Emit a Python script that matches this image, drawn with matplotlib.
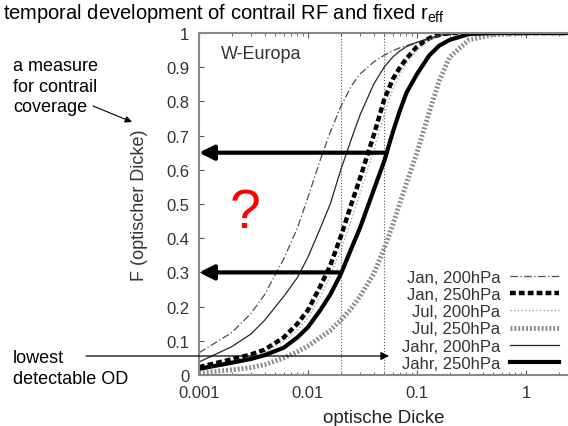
import numpy as np
import matplotlib.pyplot as plt

plt.rcParams['font.family'] = ['Liberation Sans', 'DejaVu Sans']
plt.rcParams['mathtext.fontset'] = 'custom'
plt.rcParams['mathtext.rm'] = 'Liberation Sans'

# optische Dicke (x) und F-Werte
od = [0.001, 0.002, 0.003, 0.004, 0.006, 0.008, 0.01, 0.013, 0.016, 0.02, 0.025, 0.03,
      0.04, 0.05, 0.06, 0.07, 0.08, 0.1, 0.13, 0.16, 0.2, 0.3, 0.5, 1.0, 2.43]

jan200 = [0.065, 0.124, 0.18, 0.235, 0.34, 0.43, 0.52, 0.63, 0.71, 0.785, 0.845, 0.88,
          0.915, 0.935, 0.948, 0.957, 0.963, 0.972, 0.982, 0.99, 0.996, 1.0, 1.0, 1.0, 1.0]
jan250 = [0.023, 0.046, 0.06, 0.074, 0.11, 0.15, 0.19, 0.26, 0.32, 0.405, 0.50, 0.575,
          0.70, 0.805, 0.865, 0.90, 0.925, 0.96, 0.985, 0.995, 1.0, 1.0, 1.0, 1.0, 1.0]
jul200 = [0.02, 0.04, 0.053, 0.066, 0.097, 0.132, 0.168, 0.23, 0.29, 0.365, 0.455, 0.53,
          0.655, 0.76, 0.835, 0.88, 0.91, 0.95, 0.98, 0.993, 1.0, 1.0, 1.0, 1.0, 1.0]
jul250 = [0.006, 0.015, 0.022, 0.03, 0.05, 0.068, 0.085, 0.11, 0.13, 0.16, 0.195, 0.23,
          0.295, 0.37, 0.44, 0.505, 0.56, 0.65, 0.77, 0.86, 0.93, 0.98, 0.995, 1.0, 1.0]
jahr200 = [0.038, 0.083, 0.12, 0.16, 0.23, 0.285, 0.345, 0.43, 0.50, 0.60, 0.69, 0.76,
           0.85, 0.90, 0.93, 0.948, 0.96, 0.973, 0.985, 0.993, 0.998, 1.0, 1.0, 1.0, 1.0]
jahr250 = [0.018, 0.036, 0.047, 0.058, 0.08, 0.11, 0.14, 0.19, 0.235, 0.295, 0.37, 0.43,
           0.54, 0.625, 0.71, 0.775, 0.825, 0.88, 0.935, 0.963, 0.98, 0.997, 1.0, 1.0, 1.0]

od_lines = [0.02, 0.05]      # gepunktete Linien
arrow_levels = [0.65, 0.30]  # Pfeile zur F-Achse
arrow_start = [0.053, 0.02]

fig = plt.figure(figsize=(5.68, 4.27), dpi=100)
ax = fig.add_axes([199 / 568, 51 / 427, 1 - 199 / 568, 342 / 427])

for v in od_lines:
    ax.axvline(v, color='0.35', ls=':', lw=0.8, zorder=1)

ax.plot(od, jan200, color='0.3', lw=0.9, ls=(0, (6, 2, 1, 2)), label='Jan, 200hPa')
ax.plot(od, jan250, color='black', lw=3.2, ls=(0, (1.3, 0.7)), label='Jan, 250hPa')
ax.plot(od, jul200, color='0.65', lw=1.0, ls=':', label='Jul, 200hPa')
ax.plot(od, jul250, color='0.55', lw=3.5, ls=(0, (0.4, 0.4)), label='Jul, 250hPa')
ax.plot(od, jahr200, color='0.15', lw=0.9, label='Jahr, 200hPa')
ax.plot(od, jahr250, color='black', lw=3.0, label='Jahr, 250hPa')

for lev, x0 in zip(arrow_levels, arrow_start):
    ax.annotate('', xy=(0.001, lev), xytext=(x0, lev),
                arrowprops=dict(arrowstyle='-|>', lw=3, color='black',
                                mutation_scale=22, shrinkA=0, shrinkB=0))

ax.set_xscale('log')
ax.set_xlim(0.001, 2.43)
ax.set_ylim(0, 1)
ax.set_xticks([0.001, 0.01, 0.1, 1])
ax.set_xticklabels(['0.001', '0.01', '0.1', '1'])
ax.set_yticks(np.arange(0, 1.01, 0.1))
ax.set_yticklabels(['0', '0.1', '0.2', '0.3', '0.4', '0.5', '0.6', '0.7', '0.8', '0.9', '1'])
ax.tick_params(which='both', direction='in', top=True, right=False,
               labelsize=12, labelcolor='#333333', color='#555555')
ax.tick_params(axis='y', pad=7)
ax.tick_params(axis='x', pad=7)
for s in ['left', 'bottom', 'top']:
    ax.spines[s].set_color('#888888')
    ax.spines[s].set_linewidth(1.5)
ax.spines['right'].set_visible(False)

ax.set_xlabel('optische Dicke', fontsize=13.5, color='#222222', labelpad=7)
ax.set_ylabel('F (optischer Dicke)', fontsize=13, color='#333333', labelpad=13)

ax.text(0.06, 0.965, 'W-Europa', transform=ax.transAxes, fontsize=13,
        color='#333333', va='top')
ax.text(245, 427 - 214, '?', transform=None, fontsize=40, color='red',
        ha='center', va='center')

leg = ax.legend(loc='lower right', bbox_to_anchor=(0.997, -0.012), frameon=False,
                markerfirst=False, fontsize=12, handlelength=2.9,
                handletextpad=0.6, labelspacing=0.13, borderpad=0)
for t in leg.get_texts():
    t.set_color('#333333')

fig.text(3 / 568, 1 - 2 / 427, 'temporal development of contrail RF and fixed r$_{\\mathrm{eff}}$',
         fontsize=14.5, va='top', ha='left')

fig.text(13 / 568, 1 - 87 / 427, 'a measure\nfor contrail\ncoverage', fontsize=13,
         va='center', ha='left', linespacing=1.25)
ax.annotate('', xy=(132, 427 - 123), xycoords='figure pixels',
            xytext=(93, 427 - 107), textcoords='figure pixels',
            arrowprops=dict(arrowstyle='-|>', lw=0.8, color='black', mutation_scale=10,
                            shrinkA=0, shrinkB=0))

fig.text(13 / 568, 1 - 369 / 427, 'lowest\ndetectable OD', fontsize=13,
         va='center', ha='left', linespacing=1.25)
ax.annotate('', xy=(389, 427 - 357), xycoords='figure pixels',
            xytext=(86, 427 - 357), textcoords='figure pixels',
            arrowprops=dict(arrowstyle='-|>', lw=0.9, color='black', mutation_scale=12,
                            shrinkA=0, shrinkB=0))

fig.savefig('out.png', dpi=100)
